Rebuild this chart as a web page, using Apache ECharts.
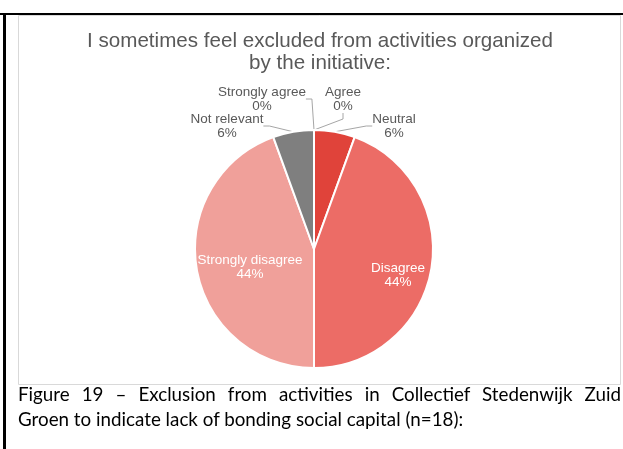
<!DOCTYPE html>
<html>
<head>
<meta charset="utf-8">
<script src="https://cdn.jsdelivr.net/npm/echarts@6/dist/echarts.min.js"></script>
<style>
  html, body { margin: 0; padding: 0; background: #fff; }
  #wrap { position: relative; width: 623px; height: 449px; overflow: hidden; }
  #chart { position: absolute; left: 0; top: 0; width: 623px; height: 449px; }
  .cap { position: absolute; left: 18px; width: 603px; font-family: Lato, "Open Sans", sans-serif;
         font-size: 18.8px; color: #000; white-space: nowrap; line-height: 25px; }
  #cap1 { top: 381px; text-align: justify; text-align-last: justify; white-space: normal; }
  #cap2 { top: 406px; }
</style>
</head>
<body>
<div id="wrap">
  <div id="chart"></div>
  <div class="cap" id="cap1">Figure 19 – Exclusion from activities in Collectief Stedenwijk Zuid</div>
  <div class="cap" id="cap2">Groen to indicate lack of bonding social capital (n=18):</div>
</div>
<script>
// Responses (n = 18), in clockwise order from 12 o'clock
const categories = ['Strongly agree', 'Agree', 'Neutral', 'Disagree', 'Strongly disagree', 'Not relevant'];
const counts = [0, 0, 1, 8, 8, 1];
const sliceColors = ['#C0392B', '#D9302A', '#E0433A', '#EC6C66', '#F0A09A', '#7F7F7F'];
const titleLines = ['I sometimes feel excluded from activities organized', 'by the initiative:'];

// Label anchors as offsets from the pie centre (px)
const labelOffsets = [
  [-52, -150], [29, -150], [80, -123], [84, 26], [-64, 18], [-87, -123]
];
const insideLabels = ['Disagree', 'Strongly disagree'];

const cx = 314, cy = 249, R = 119;

const chart = echarts.init(document.getElementById('chart'), null, { renderer: 'canvas' });

const data = categories.map((name, i) => {
  const inside = insideLabels.includes(name);
  return {
    name,
    value: counts[i],
    itemStyle: { color: sliceColors[i] },
    label: inside
      ? { position: 'inside', color: '#ffffff' }
      : { position: 'outside', color: '#595959' },
    labelLine: { show: !inside }
  };
});

const titleFont = { fontFamily: 'Liberation Sans, Arial, sans-serif', fontSize: 20.6, fill: '#595959',
                    textAlign: 'center', textVerticalAlign: 'middle' };

chart.setOption({
  animation: false,
  graphic: [
    // page frame lines
    { type: 'rect', shape: { x: 0, y: 13, width: 623, height: 2 }, style: { fill: '#000' }, silent: true },
    { type: 'rect', shape: { x: 3, y: 13, width: 3, height: 436 }, style: { fill: '#000' }, silent: true },
    // chart area border
    { type: 'rect', shape: { x: 18.5, y: 15.5, width: 602, height: 369 },
      style: { fill: '#fff', stroke: '#d9d9d9', lineWidth: 1 }, silent: true, z: -1 },
    { type: 'text', x: 320, y: 41, style: Object.assign({ text: titleLines[0] }, titleFont) },
    { type: 'text', x: 320, y: 63, style: Object.assign({ text: titleLines[1] }, titleFont) }
  ],
  series: [{
    type: 'pie',
    center: [cx, cy],
    radius: R,
    startAngle: 90,
    clockwise: true,
    avoidLabelOverlap: false,
    percentPrecision: 0,
    data,
    itemStyle: { borderColor: '#ffffff', borderWidth: 2 },
    label: {
      formatter: '{b}\n{d}%',
      fontFamily: 'Liberation Sans, Arial, sans-serif',
      fontSize: 13.5,
      lineHeight: 14
    },
    labelLine: { length: 14, length2: 6, lineStyle: { color: '#a6a6a6', width: 1 } },
    labelLayout: function (p) {
      const o = labelOffsets[p.dataIndex];
      return { x: cx + o[0], y: cy + o[1], align: 'center', verticalAlign: 'middle' };
    }
  }]
});
</script>
</body>
</html>
